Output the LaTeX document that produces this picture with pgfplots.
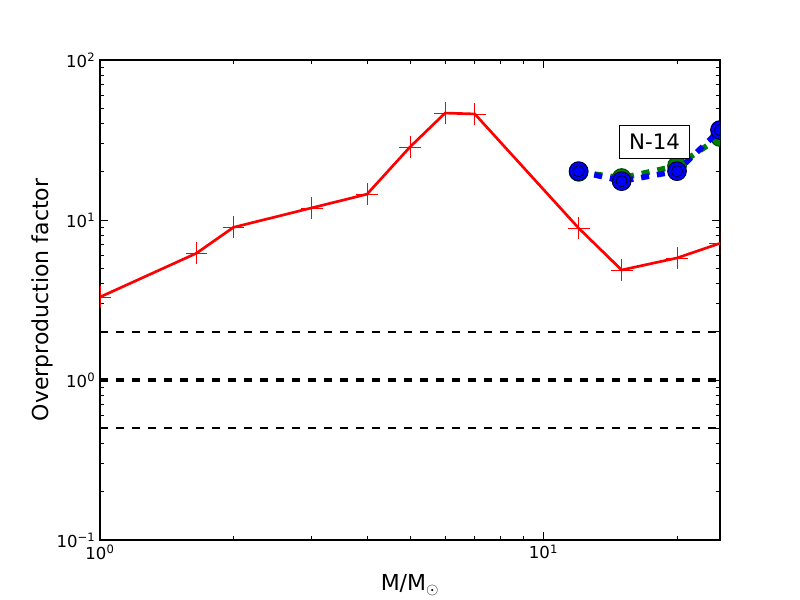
\documentclass[border=0pt]{standalone}
\usepackage{pgfplots}
\pgfplotsset{compat=1.18}
\usepackage{fontspec}
\setmainfont{DejaVu Sans}
\begin{document}
\begin{tikzpicture}
\path[use as bounding box] (-75pt,-45pt) rectangle (525pt,405pt);
\begin{axis}[
  at={(0,0)}, anchor=south west,
  scale only axis, width=465pt, height=360pt,
  xmode=log, ymode=log,
  xmin=1, xmax=25, ymin=0.1, ymax=100,
  xtick={1,10}, xticklabels={10\textsuperscript{0},10\textsuperscript{1}},
  ytick={0.1,1,10,100},
  yticklabels={10\textsuperscript{−1},10\textsuperscript{0},10\textsuperscript{1},10\textsuperscript{2}},
  minor xtick={2,3,4,5,6,7,8,9,20},
  minor ytick={0.2,0.3,0.4,0.5,0.6,0.7,0.8,0.9,2,3,4,5,6,7,8,9,20,30,40,50,60,70,80,90},
  tick align=inside,
  major tick length=6pt, minor tick length=3pt,
  every tick/.style={black, line width=0.7pt},
  axis line style={line width=0.8pt},
  tick label style={font=\fontsize{12.4}{14}\selectfont},
  /pgf/number format/assume math mode=true,
  xlabel={M/M\textsubscript{$\odot$}},
  ylabel={Overproduction factor},
  label style={font=\fontsize{16.5}{19}\selectfont},
  xlabel style={at={(axis description cs:0.5,-0.106)}, anchor=base},
  ylabel style={at={(axis description cs:-0.0935,0.5)}, anchor=center},
  clip=true, clip marker paths=true,
]
% horizontal reference lines
\addplot[black, line width=1.1pt, dash pattern=on 6pt off 6pt] coordinates {(1,2) (25,2)};
\addplot[black, line width=2.8pt, dash pattern=on 6pt off 6pt] coordinates {(1,1) (25,1)};
\addplot[black, line width=1.1pt, dash pattern=on 6pt off 6pt] coordinates {(1,0.5) (25,0.5)};
% red line
\addplot[red, line width=2pt, mark=+, mark size=8.2pt, mark options={line width=0.6pt, solid}]
coordinates {(1,3.3) (1.65,6.2) (2,9.0) (3,11.9) (4,14.5) (5,28.6) (6,46.6) (7,46) (12,8.9) (15,4.87) (20,5.79) (25,7.15)};
% green
\addplot[color={rgb,1:red,0;green,0.5;blue,0}, line width=4.2pt, dash pattern=on 6pt off 6pt,
  mark=*, mark size=7pt, mark options={solid, line width=0.8pt, draw=black!70!green, fill={rgb,1:red,0;green,0.5;blue,0}}]
coordinates {(12,20) (15,18.3) (20,21.8) (25,33)};
% blue
\addplot[blue, line width=4.2pt, dash pattern=on 6pt off 6pt,
  mark=*, mark size=7pt, mark options={solid, line width=0.8pt, draw=black!80!blue, fill=blue}]
coordinates {(12,20.2) (15,17.5) (20,20.2) (25,36.5)};
\addplot[only marks, mark=*, mark size=4.2pt, mark options={line width=0.7pt, draw=black!80!blue, fill=blue}]
coordinates {(12,20.2) (15,17.5) (20,20.2) (25,36.5)};
\node[draw=black, fill=white, line width=0.75pt, inner xsep=7.5pt, inner ysep=6.5pt, font=\fontsize{16}{19}\selectfont] at (axis cs:17.8,30.7) {N-14};
\end{axis}
\end{tikzpicture}
\end{document}
